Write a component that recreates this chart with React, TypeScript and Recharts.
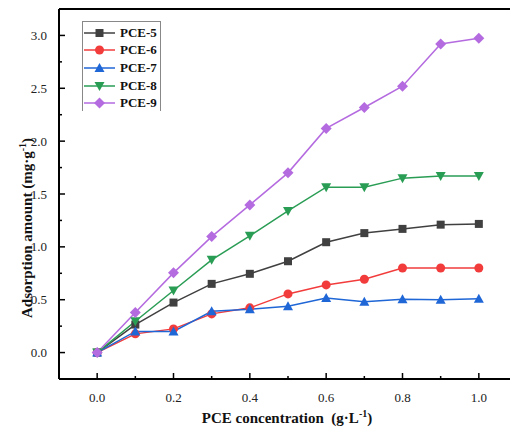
import { LineChart, Line, XAxis, YAxis, Legend, ReferenceLine } from "recharts";

const concentrations = [0, 0.1, 0.2, 0.3, 0.4, 0.5, 0.6, 0.7, 0.8, 0.9, 1.0];

const pce5 = [0, 0.265, 0.473, 0.65, 0.745, 0.864, 1.044, 1.13, 1.17, 1.21, 1.217];
const pce6 = [0, 0.177, 0.224, 0.366, 0.423, 0.555, 0.64, 0.694, 0.8, 0.8, 0.8];
const pce7 = [0, 0.2, 0.2, 0.39, 0.41, 0.438, 0.517, 0.48, 0.504, 0.5, 0.508];
const pce8 = [0, 0.296, 0.587, 0.877, 1.104, 1.34, 1.564, 1.564, 1.65, 1.67, 1.67];
const pce9 = [0, 0.38, 0.754, 1.097, 1.397, 1.7, 2.12, 2.318, 2.52, 2.92, 2.974];

const xTicks = [0, 0.1, 0.2, 0.3, 0.4, 0.5, 0.6, 0.7, 0.8, 0.9, 1.0];
const yTicks = [0, 0.25, 0.5, 0.75, 1, 1.25, 1.5, 1.75, 2, 2.25, 2.5, 2.75, 3];

const SERIES = [
    { key: "pce5", name: "PCE-5", values: pce5, color: "#404040", shape: "square" },
    { key: "pce6", name: "PCE-6", values: pce6, color: "#f23c3c", shape: "circle" },
    { key: "pce7", name: "PCE-7", values: pce7, color: "#1f66d6", shape: "triangleUp" },
    { key: "pce8", name: "PCE-8", values: pce8, color: "#2a9d55", shape: "triangleDown" },
    { key: "pce9", name: "PCE-9", values: pce9, color: "#b56be0", shape: "diamond" },
];

const chartData = concentrations.map((c, i) => {
    const row: any = { x: c };
    SERIES.forEach((s) => (row[s.key] = s.values[i]));
    return row;
});

// plot box (page coords inside the wrapper)
const PLOT_LEFT = 59;
const PLOT_TOP = 9;
const PLOT_BOTTOM = 379;
const CHART_W = 540;
const CHART_H = 436;
const FONT = "'Liberation Serif', 'Times New Roman', serif";

function Marker({ shape, cx, cy, color }: any) {
    if (cx == null || cy == null) return null;
    switch (shape) {
        case "square":
            return <rect x={cx - 4} y={cy - 4} width={8} height={8} fill={color} />;
        case "circle":
            return <circle cx={cx} cy={cy} r={4.5} fill={color} />;
        case "triangleUp":
            return <polygon points={`${cx},${cy - 5} ${cx + 5},${cy + 4} ${cx - 5},${cy + 4}`} fill={color} />;
        case "triangleDown":
            return <polygon points={`${cx},${cy + 5} ${cx + 5},${cy - 4} ${cx - 5},${cy - 4}`} fill={color} />;
        default:
            return <polygon points={`${cx},${cy - 5.5} ${cx + 5.5},${cy} ${cx},${cy + 5.5} ${cx - 5.5},${cy}`} fill={color} />;
    }
}

const isMajor = (v: number) => Math.abs(Math.round(v * 10) % 2) === 0;

const XTick = ({ x, payload }: any) => {
    const major = isMajor(payload.value);
    return (
        <g>
            <line x1={x} x2={x} y1={PLOT_BOTTOM} y2={PLOT_BOTTOM - (major ? 6 : 3)} stroke="#000" strokeWidth={1.5} />
            {major && (
                <text x={x} y={402} textAnchor="middle" fontFamily={FONT} fontSize={13} fill="#222">
                    {payload.value.toFixed(1)}
                </text>
            )}
        </g>
    );
};

const YTick = ({ y, payload }: any) => {
    const major = Math.abs((payload.value * 2) % 1) < 1e-6;
    return (
        <g>
            <line x1={PLOT_LEFT} x2={PLOT_LEFT + (major ? 6 : 3)} y1={y} y2={y} stroke="#000" strokeWidth={1.5} />
            {major && (
                <text x={47} y={y + 4.5} textAnchor="end" fontFamily={FONT} fontSize={13} fill="#222">
                    {payload.value.toFixed(1)}
                </text>
            )}
        </g>
    );
};

const XTitle = () => (
    <text x={287} y={423} textAnchor="middle" fontFamily={FONT} fontSize={15} fontWeight="bold" fill="#111">
        PCE concentration{"\u00a0\u00a0"}(g·L
        <tspan dy={-6} fontSize={10}>-1</tspan>
        <tspan dy={6}>)</tspan>
    </text>
);

const YTitle = () => (
    <text
        x={0}
        y={0}
        transform="translate(32, 228) rotate(-90)"
        textAnchor="middle"
        fontFamily={FONT}
        fontSize={15}
        fontWeight="bold"
        fill="#111"
    >
        Adsorption amount (mg·g
        <tspan dy={-6} fontSize={10}>-1</tspan>
        <tspan dy={6}>)</tspan>
    </text>
);

const renderLegend = () => (
    <div
        style={{
            borderLeft: "1px solid #888",
            borderTop: "1px solid #888",
            borderRight: "1px solid #888",
            width: 79,
            height: 90,
            boxSizing: "border-box",
            background: "#fff",
            paddingTop: 2,
        }}
    >
        {SERIES.map((s) => (
            <div key={s.key} style={{ display: "flex", alignItems: "center", height: 17.6, whiteSpace: "nowrap" }}>
                <svg width={33} height={14} style={{ flex: "none" }}>
                    <line x1={1} x2={32} y1={7} y2={7} stroke={s.color} strokeWidth={1.5} />
                    <Marker shape={s.shape} cx={16.5} cy={7} color={s.color} />
                </svg>
                <span
                    style={{
                        fontFamily: FONT,
                        fontWeight: "bold",
                        fontSize: 13,
                        color: "#111",
                        marginLeft: 4,
                        lineHeight: "14px",
                        whiteSpace: "nowrap",
                    }}
                >
                    {s.name}
                </span>
            </div>
        ))}
    </div>
);

export default function App() {
    return (
        <div
            style={{
                position: "absolute",
                left: 0,
                top: 0,
                width: 510,
                height: 436,
                overflow: "hidden",
                background: "#fff",
            }}
        >
            <LineChart
                width={CHART_W}
                height={CHART_H}
                data={chartData}
                margin={{ top: PLOT_TOP, left: 0, right: CHART_W - 517, bottom: 0 }}
            >
                <XAxis
                    dataKey="x"
                    type="number"
                    domain={[-0.1, 1.1]}
                    ticks={xTicks}
                    tick={<XTick />}
                    tickLine={false}
                    axisLine={{ stroke: "#000", strokeWidth: 2 }}
                    height={CHART_H - PLOT_BOTTOM}
                    interval={0}
                    label={{ content: <XTitle /> }}
                />
                <YAxis
                    type="number"
                    domain={[-0.25, 3.25]}
                    ticks={yTicks}
                    tick={<YTick />}
                    tickLine={false}
                    axisLine={{ stroke: "#000", strokeWidth: 2 }}
                    width={PLOT_LEFT}
                    interval={0}
                    label={{ content: <YTitle /> }}
                />
                <ReferenceLine y={3.25} stroke="#000" strokeWidth={2} />
                <Legend
                    layout="vertical"
                    align="center"
                    verticalAlign="middle"
                    content={renderLegend}
                    wrapperStyle={{ position: "absolute", left: 82, top: 21, width: 79, height: 90 }}
                />
                {SERIES.map((s) => (
                    <Line
                        key={s.key}
                        dataKey={s.key}
                        name={s.name}
                        stroke={s.color}
                        strokeWidth={1.5}
                        isAnimationActive={false}
                        dot={(p: any) => <Marker key={`${s.key}-${p.index}`} shape={s.shape} cx={p.cx} cy={p.cy} color={s.color} />}
                        activeDot={false}
                    />
                ))}
            </LineChart>
        </div>
    );
}
